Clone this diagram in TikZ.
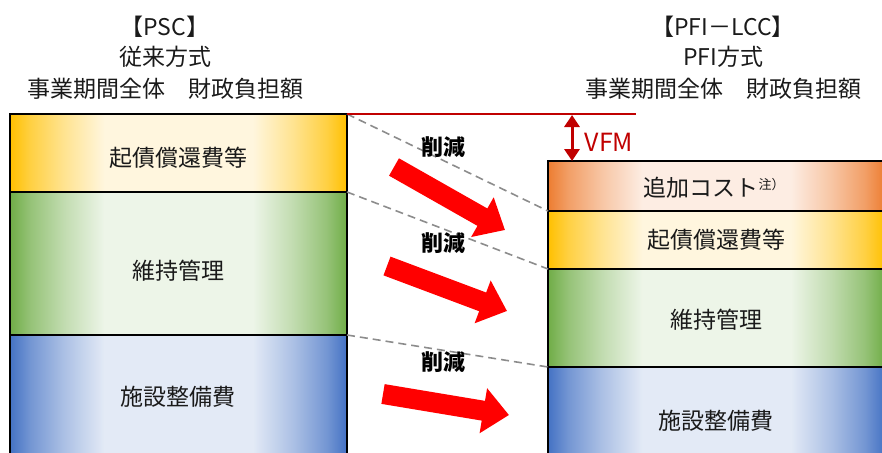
\documentclass[tikz,border=0pt]{standalone}
\usepackage{fontspec}
\setmainfont{Noto Sans CJK JP}
\usetikzlibrary{arrows.meta}
\definecolor{txt}{HTML}{1A1A1A}
\definecolor{vfmred}{HTML}{C00000}
\definecolor{arrred}{HTML}{FF0000}
\definecolor{ysat}{HTML}{FFC000}\definecolor{ypale}{HTML}{FFF6DE}
\definecolor{osat}{HTML}{ED7D31}\definecolor{opale}{HTML}{FDEDE3}
\definecolor{gsat}{HTML}{70AD47}\definecolor{gpale}{HTML}{EDF5E8}
\definecolor{bsat}{HTML}{4472C4}\definecolor{bpale}{HTML}{E3EAF6}
\colorlet{yhi}{ysat!70!ypale}\colorlet{ohi}{osat!70!opale}
\colorlet{ghi}{gsat!70!gpale}\colorlet{bhi}{bsat!70!bpale}
\colorlet{ymid}{ysat!35!ypale}\colorlet{omid}{osat!35!opale}
\colorlet{gmid}{gsat!35!gpale}\colorlet{bmid}{bsat!35!bpale}
\pgfdeclarehorizontalshading{shY}{100bp}{color(0bp)=(ysat); color(25bp)=(ysat); color(28bp)=(yhi); color(33bp)=(ymid); color(39bp)=(ypale); color(61bp)=(ypale); color(67bp)=(ymid); color(72bp)=(yhi); color(75bp)=(ysat); color(100bp)=(ysat)}
\pgfdeclarehorizontalshading{shO}{100bp}{color(0bp)=(osat); color(25bp)=(osat); color(28bp)=(ohi); color(33bp)=(omid); color(39bp)=(opale); color(61bp)=(opale); color(67bp)=(omid); color(72bp)=(ohi); color(75bp)=(osat); color(100bp)=(osat)}
\pgfdeclarehorizontalshading{shG}{100bp}{color(0bp)=(gsat); color(25bp)=(gsat); color(28bp)=(ghi); color(33bp)=(gmid); color(39bp)=(gpale); color(61bp)=(gpale); color(67bp)=(gmid); color(72bp)=(ghi); color(75bp)=(gsat); color(100bp)=(gsat)}
\pgfdeclarehorizontalshading{shB}{100bp}{color(0bp)=(bsat); color(25bp)=(bsat); color(28bp)=(bhi); color(33bp)=(bmid); color(39bp)=(bpale); color(61bp)=(bpale); color(67bp)=(bmid); color(72bp)=(bhi); color(75bp)=(bsat); color(100bp)=(bsat)}
\begin{document}
\begin{tikzpicture}[x=1pt,y=-1pt,
  costbox/.style={draw=black, line width=1.6pt, shade, anchor=north west, inner sep=0pt, outer sep=0pt, minimum width=337pt},
  lbl/.style={text=txt, font=\fontsize{23}{27}\selectfont, inner sep=0pt},
  cut/.style={text=black, font=\fontsize{22}{26}\selectfont\bfseries, inner sep=0pt},
  guide/.style={draw=gray!90, line width=1.6pt, dash pattern=on 8pt off 5pt},
  bigarrow/.style={draw=arrred, line width=20pt, -{Triangle[length=26pt,width=44pt]}},
  vfmarrow/.style={draw=vfmred, line width=3pt, {Triangle[length=12pt,width=15pt]}-{Triangle[length=12pt,width=15pt]}}]
\useasboundingbox (0,0) rectangle (882,452);
\clip (0,0) rectangle (882,452);
% left column
\node[costbox, shading=shY, minimum height=78pt] (Ly) at (10,114) {};
\node[costbox, shading=shG, minimum height=143pt] (Lg) at (10,192) {};
\node[costbox, shading=shB, minimum height=125pt] (Lb) at (10,335) {};
% right column
\node[costbox, shading=shO, minimum height=50pt] (Ro) at (548,161) {};
\node[costbox, shading=shY, minimum height=58pt] (Ry) at (548,211) {};
\node[costbox, shading=shG, minimum height=98pt] (Rg) at (548,269) {};
\node[costbox, shading=shB, minimum height=108pt] (Rb) at (548,367) {};
% labels
\node[lbl] (tLy) at (178,158) {起債償還費等};
\node[lbl] (tLg) at (178,271) {維持管理};
\node[lbl] (tLb) at (178,397) {施設整備費};
\node[lbl] (tRo) at (714,188) {追加コスト\raisebox{7pt}{\fontsize{13}{15}\selectfont 注）}};
\node[lbl] (tRy) at (716,240) {起債償還費等};
\node[lbl] (tRg) at (716,320) {維持管理};
\node[lbl] (tRb) at (716,421) {施設整備費};
% titles
\node[lbl] (h1) at (165,27) {【PSC】};
\node[lbl] (h2) at (165,57) {従来方式};
\node[lbl] (h3) at (165,89) {事業期間全体　財政負担額};
\node[lbl] (k1) at (723,27) {【PFI－LCC】};
\node[lbl] (k2) at (723,57) {PFI方式};
\node[lbl] (k3) at (723,89) {事業期間全体　財政負担額};
% guides
\draw[guide] (Ly.north east) -- (Ry.north west);
\draw[guide] (Lg.north east) -- (Rg.north west);
\draw[guide] (Lb.north east) -- (Rb.north west);
% VFM
\coordinate (vl) at (636,114);
\draw[draw=vfmred, line width=2pt] (Ly.north east) -- (vl);
\coordinate (va) at (572,115);
\coordinate (vb) at (572,161);
\draw[vfmarrow] (va) -- (vb);
\node[text=vfmred, font=\fontsize{25}{28}\selectfont, inner sep=0pt] (vfm) at (609,142) {VFM};
% reduction arrows
\coordinate (a1s) at (394,167); \coordinate (a1e) at (505,230);
\coordinate (a2s) at (387,266); \coordinate (a2e) at (507,311);
\coordinate (a3s) at (383,394); \coordinate (a3e) at (509,415);
\draw[bigarrow] (a1s) -- (a1e);
\draw[bigarrow] (a2s) -- (a2e);
\draw[bigarrow] (a3s) -- (a3e);
\node[cut] (c1) at (443,147) {削減};
\node[cut] (c2) at (443,243) {削減};
\node[cut] (c3) at (443,362) {削減};
\end{tikzpicture}
\end{document}
